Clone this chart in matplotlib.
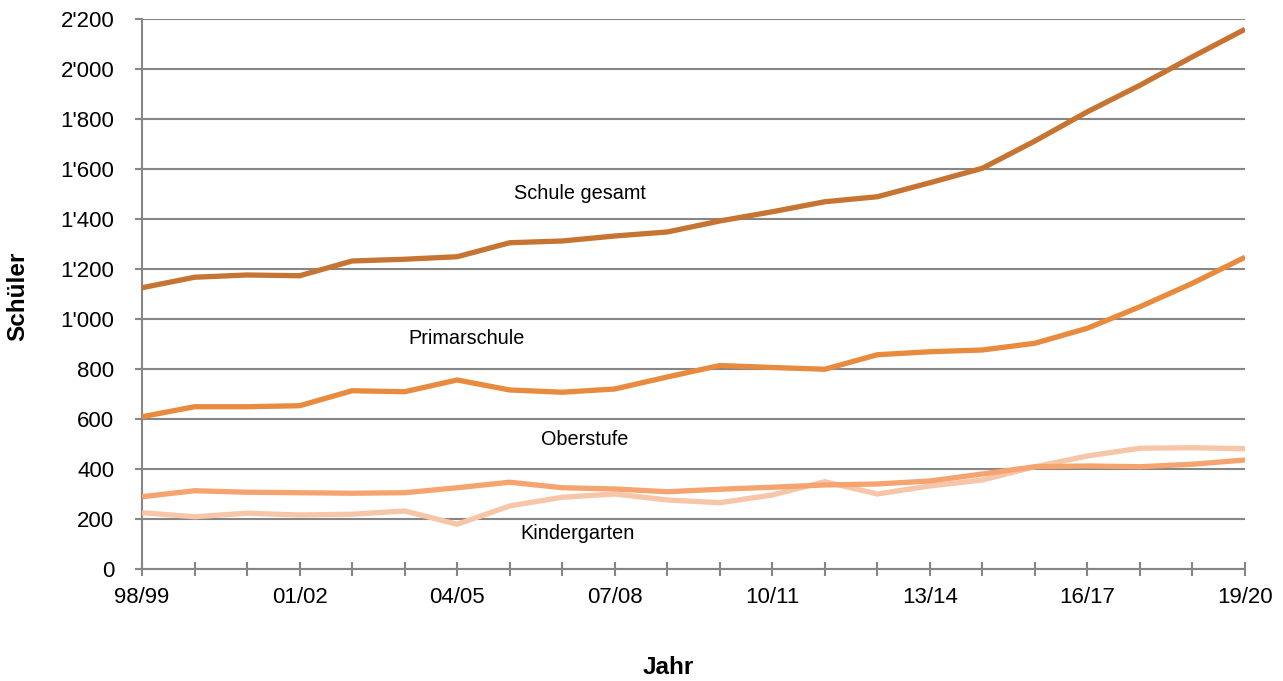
import numpy as np
import matplotlib
matplotlib.use('Agg')
import matplotlib.pyplot as plt
from matplotlib.ticker import FuncFormatter

plt.rcParams['font.family'] = ['Liberation Sans', 'DejaVu Sans']

# school years 98/99 .. 19/20
years = ['98/99', '99/00', '00/01', '01/02', '02/03', '03/04', '04/05', '05/06',
         '06/07', '07/08', '08/09', '09/10', '10/11', '11/12', '12/13', '13/14',
         '14/15', '15/16', '16/17', '17/18', '18/19', '19/20']

schule_gesamt = [1125, 1167, 1176, 1173, 1232, 1239, 1249, 1305, 1312, 1332, 1348,
                 1392, 1429, 1469, 1489, 1545, 1603, 1712, 1829, 1935, 2049, 2159]
primarschule = [609, 649, 649, 653, 713, 709, 756, 716, 707, 720, 768,
                814, 806, 799, 857, 869, 876, 903, 963, 1049, 1143, 1247]
oberstufe = [289, 313, 307, 305, 303, 305, 325, 347, 325, 320, 309,
             319, 327, 336, 340, 352, 380, 409, 412, 409, 419, 436]
kindergarten = [225, 209, 223, 216, 219, 232, 179, 252, 287, 300, 276,
                265, 296, 349, 300, 332, 356, 409, 452, 483, 485, 481]

grey = '#868686'
x = np.arange(len(years))

fig = plt.figure(figsize=(12.83, 6.81), dpi=100)
ax = fig.add_axes([0.1107, 0.1645, 0.8597, 0.8076])

ax.plot(x, kindergarten, color='#F7C5A7', lw=3.8, solid_capstyle='butt', zorder=3)
ax.plot(x, oberstufe, color='#F5A46F', lw=3.8, solid_capstyle='butt', zorder=3)
ax.plot(x, primarschule, color='#E88B3E', lw=3.8, solid_capstyle='butt', zorder=3)
ax.plot(x, schule_gesamt, color='#C77433', lw=3.8, solid_capstyle='butt', zorder=3)

# series labels (baseline positions)
ax.text(8.34, 1480, 'Schule gesamt', fontsize=14.3, ha='center', va='baseline')
ax.text(6.17, 900, 'Primarschule', fontsize=14.3, ha='center', va='baseline')
ax.text(8.43, 496, 'Oberstufe', fontsize=14.3, ha='center', va='baseline')
ax.text(8.29, 120, 'Kindergarten', fontsize=14.3, ha='center', va='baseline')

ax.set_xlim(0, len(years) - 1)
ax.set_ylim(0, 2200)
ax.set_yticks(np.arange(0, 2201, 200))
ax.yaxis.set_major_formatter(FuncFormatter(lambda v, p: f'{int(v):,}'.replace(',', "'")))
ax.set_xticks(x)
ax.set_xticklabels([y if i % 3 == 0 else '' for i, y in enumerate(years)])

ax.grid(axis='y', color=grey, lw=1.5, zorder=1)
ax.set_axisbelow(True)
for s in ['top', 'right']:
    ax.spines[s].set_visible(False)
for s in ['left', 'bottom']:
    ax.spines[s].set_color(grey)
    ax.spines[s].set_linewidth(1.5)

ax.tick_params(axis='y', colors=grey, length=5, width=1.5, labelsize=16,
               labelcolor='black', pad=15)
ax.tick_params(axis='x', colors=grey, length=9.4, width=1.5, direction='inout',
               labelsize=16, labelcolor='black', pad=8)

fig.text(668.5 / 1283, (681 - 674) / 681, 'Jahr', fontsize=17.5, fontweight='bold',
         ha='center', va='baseline')
fig.text(18 / 1283, (681 - 296) / 681, 'Schüler', fontsize=17.5, fontweight='bold',
         rotation=90, ha='center', va='center')

fig.savefig('out.png', dpi=100)
